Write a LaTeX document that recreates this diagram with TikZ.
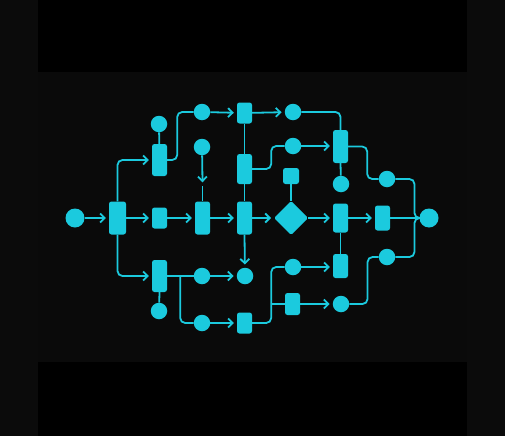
\documentclass[tikz,border=0pt]{standalone}
\usetikzlibrary{arrows.meta,calc}
\definecolor{cy}{RGB}{27,202,222}
\definecolor{bgout}{RGB}{11,11,11}
\definecolor{bgin}{RGB}{10,10,10}
\tikzset{
  rbox/.style={fill=cy,draw=none,rounded corners=2.5pt,inner sep=0pt,minimum width=15pt},
  dot/.style={circle,fill=cy,draw=none,inner sep=0pt,minimum size=16.5pt},
  bigdot/.style={circle,fill=cy,draw=none,inner sep=0pt,minimum size=19pt},
  dia/.style={fill=cy,draw=none,inner sep=0pt},
  wire/.style={draw=cy,line width=1.8pt,rounded corners=5pt},
  arr/.style={wire,-{Straight Barb[length=4.5pt,width=9pt,line width=1.8pt]},shorten >=3pt}
}
\begin{document}
\begin{tikzpicture}[x=1pt,y=-1pt]
\useasboundingbox (0,0) rectangle (505,436);
\fill[bgout] (0,0) rectangle (505,436);
\fill[bgin] (38,72) rectangle (467,362);
\fill[black] (38,0) rectangle (467,72);
\fill[black] (38,362) rectangle (467,436);

% nodes
\node[bigdot] (S0) at (75,218) {};
\node[rbox,minimum width=17pt,minimum height=33pt] (A) at (117.5,218) {};
\node[rbox,minimum height=32pt] (B) at (159.5,160) {};
\node[dot] (cB) at (159,124) {};
\node[rbox,minimum height=21pt] (C) at (159.5,218) {};
\node[rbox,minimum height=33pt] (D) at (202.5,218) {};
\node[dot] (cD) at (202,147) {};
\node[dot] (E) at (202,112) {};
\node[rbox,minimum height=21pt] (F) at (244.5,113) {};
\node[dot] (G) at (293,112) {};
\node[rbox,minimum height=30pt] (I) at (244.5,169) {};
\node[rbox,minimum height=33pt] (J) at (244.5,218) {};
\node[dot] (K) at (245,276) {};
\node[dot] (L) at (293,146) {};
\node[rbox,minimum width=16pt,minimum height=16pt] (M) at (291,176) {};
\node[dia] (N) at (291,218) {};
\fill[cy,rounded corners=1.5pt] (274,218) -- (291,201) -- (308,218) -- (291,235) -- cycle;
\node[rbox,minimum height=33pt] (H) at (340.5,146.5) {};
\node[dot] (P) at (341,184) {};
\node[rbox,minimum height=29pt] (O) at (340.5,218) {};
\node[rbox,minimum height=24pt] (Q) at (340.5,266) {};
\node[rbox,minimum height=25pt] (R) at (382.5,218) {};
\node[bigdot] (S) at (429,218) {};
\node[dot] (T) at (387,179) {};
\node[dot] (U) at (387,257) {};
\node[dot] (V) at (341,304) {};
\node[rbox,minimum height=32pt] (W) at (159.5,276) {};
\node[dot] (cW) at (159,311) {};
\node[dot] (X) at (202,276) {};
\node[dot] (Y) at (202,323) {};
\node[rbox,minimum height=21pt] (Z) at (244.5,323) {};
\node[dot] (AA) at (293,267) {};
\node[rbox,minimum height=22pt] (BB) at (292.5,304) {};

\coordinate (Nw) at (274,218);
\coordinate (Ne) at (308,218);
\coordinate (Nn) at (291,201);

% connectors
\draw[arr] (S0) -- (A);
\draw[arr] (A.north) |- (B.west);
\draw[arr] (A) -- (C);
\draw[arr] (A.south) |- (W.west);
\draw[wire] (cB) -- (B);
\draw[wire] (B.east) -- ++(10,0) |- (E);
\draw[arr] (C) -- (D);
\coordinate (dtip) at ($(D.north)+(0,-19)$);
\draw[arr,shorten >=0pt] (cD) -- (dtip);
\draw[wire] (D.north) -- ++(0,-15);
\draw[arr] (D) -- (J);
\draw[arr] (E) -- (F);
\draw[arr] (F) -- (G);
\draw[wire] (F.south) -- (I.north);
\draw[wire] (I.south) -- (J.north);
\draw[arr] (J.south) -- (K);
\draw[wire] (G.east) -| (H.north);
\draw[wire] (I.east) -- ++(19,0) |- (L);
\draw[arr] (L) -- (H.west |- L);
\draw[wire] (M) -- (Nn);
\draw[arr] (J) -- (Nw);
\draw[arr] (Ne) -- (O);
\draw[wire] (H.south) -- (P);
\draw[wire] (O.south) -- (Q.north);
\draw[arr] (O) -- (R);
\draw[wire] (R) -- (S);
\draw[wire] (H.east) -- ++(19,0) |- (T);
\draw[wire] (T.east) -| ++(19,39) -- (S.west);
\draw[wire] (U.east) -| ++(19,-39) -- (S.west);
\draw[wire] (U.west) -- ++(-11,0) |- (V);
\draw[wire] (W.south) -- (cW);
\draw[wire] (W) -- (X);
\draw[arr] (X) -- (K);
\coordinate (br1) at ($(W.east)+(13,0)$);
\draw[wire] (br1) |- (Y);
\draw[arr] (Y) -- (Z);
\draw[wire] (Z.east) -- ++(19,0) |- (AA);
\coordinate (br2) at ($(Z.east)+(19,-19)$);
\draw[wire] (br2) -- (BB);
\draw[arr] (AA) -- (Q.west |- AA);
\draw[arr] (BB) -- (V);
\end{tikzpicture}
\end{document}
